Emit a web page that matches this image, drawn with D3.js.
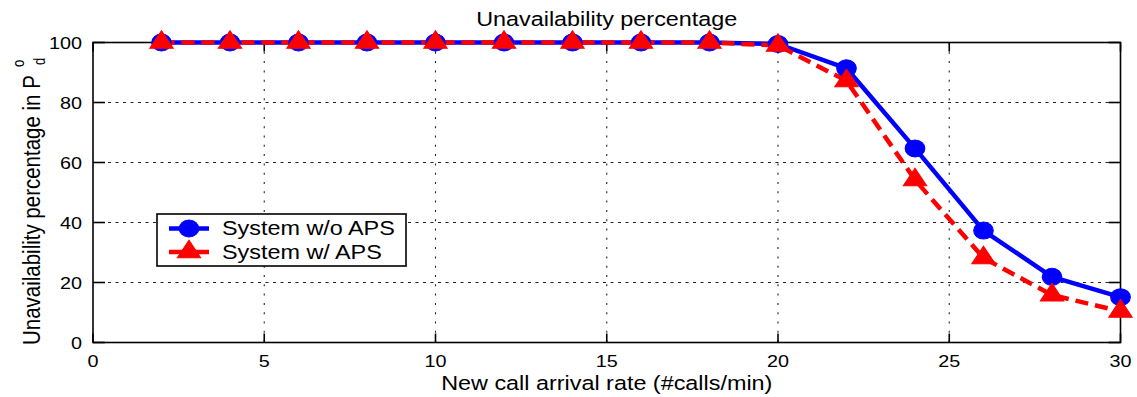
<!DOCTYPE html>
<html>
<head>
<meta charset="utf-8">
<script src="https://cdn.jsdelivr.net/npm/d3@7"></script>
<style>
  html, body { margin: 0; padding: 0; background: #fff; }
  svg { display: block; font-family: "Liberation Sans", Arial, sans-serif; }
</style>
</head>
<body>
<svg id="chart" width="1137" height="397"></svg>
<script>
// Call arrival rate (calls/min)
const arrivalRate = [2, 4, 6, 8, 10, 12, 14, 16, 18, 20, 22, 24, 26, 28, 30];
// Unavailability percentage, system without APS
const withoutAPS = [100, 100, 100, 100, 100, 100, 100, 100, 100, 99.5, 91.4, 64.7, 37.3, 21.9, 15.1];
// Unavailability percentage, system with APS
const withAPS = [100, 100, 100, 100, 100, 100, 100, 100, 100, 99, 87.2, 54.2, 28.2, 15.8, 10.4];

const xTicks = [0, 5, 10, 15, 20, 25, 30];
const yTicks = [0, 20, 40, 60, 80, 100];
const seriesNames = ["System w/o APS", "System w/ APS"];

const svg = d3.select("#chart");
const margin = { left: 93, right: 1137 - 1120.5, top: 42.5, bottom: 397 - 342.5 };
const W = 1137, H = 397;
const x = d3.scaleLinear().domain([0, 30]).range([margin.left, W - margin.right]);
const y = d3.scaleLinear().domain([0, 100]).range([H - margin.bottom, margin.top]);

const SX = 1.2; // horizontal glyph stretch of the text

// text helper: wide glyphs drawn through a horizontal scale
function label(g, tx, ty, str, size, anchor) {
  return g.append("text")
    .attr("transform", `translate(${tx},${ty}) scale(${SX},1)`)
    .attr("font-size", size)
    .attr("text-anchor", anchor || "middle")
    .attr("fill", "#000")
    .text(str);
}

// vertical text helper (reads bottom to top)
function vlabel(g, tx, ty, str, size, anchor) {
  return g.append("text")
    .attr("transform", `translate(${tx},${ty}) scale(${SX},1) rotate(-90)`)
    .attr("font-size", size)
    .attr("text-anchor", anchor || "start")
    .attr("fill", "#000")
    .text(str);
}

// grid
const grid = svg.append("g").attr("stroke", "#222").attr("stroke-width", 1.1);
grid.selectAll("line.v").data(xTicks.filter(d => d > 0 && d < 30)).join("line")
  .attr("x1", d => x(d)).attr("x2", d => x(d))
  .attr("y1", y(100)).attr("y2", y(0))
  .attr("stroke-dasharray", "2,7.3");
grid.selectAll("line.h").data(yTicks.filter(d => d > 0 && d < 100)).join("line")
  .attr("x1", x(0)).attr("x2", x(30))
  .attr("y1", d => y(d)).attr("y2", d => y(d))
  .attr("stroke-dasharray", "3,4.5");

// axes box with inward ticks on all sides
const axes = svg.append("g").attr("stroke", "#000").attr("stroke-width", 1.6).attr("fill", "none");
axes.append("rect").attr("x", x(0)).attr("y", y(100))
  .attr("width", x(30) - x(0)).attr("height", y(0) - y(100));
xTicks.forEach(t => {
  axes.append("line").attr("x1", x(t)).attr("x2", x(t)).attr("y1", y(0)).attr("y2", y(0) - 9);
  axes.append("line").attr("x1", x(t)).attr("x2", x(t)).attr("y1", y(100)).attr("y2", y(100) + 9);
});
yTicks.forEach(t => {
  axes.append("line").attr("x1", x(0)).attr("x2", x(0) + 12).attr("y1", y(t)).attr("y2", y(t));
  axes.append("line").attr("x1", x(30)).attr("x2", x(30) - 12).attr("y1", y(t)).attr("y2", y(t));
});

// tick labels
const tl = svg.append("g");
xTicks.forEach(t => label(tl, x(t), 367, String(t), 16.5, "middle"));
yTicks.forEach(t => label(tl, 82, y(t) + 6, String(t), 16.5, "end"));

// title and axis labels
label(svg, x(15), 26, "Unavailability percentage", 19.5, "middle");
label(svg, x(15), 390, "New call arrival rate (#calls/min)", 19.5, "middle");

const yl = svg.append("g");
vlabel(yl, 40, 345, "Unavailability percentage in P", 20.5, "start");
vlabel(yl, 24, 67, "o", 13, "start");
vlabel(yl, 45, 65, "d", 13, "start");

// series
const line = d3.line().x((d, i) => x(arrivalRate[i])).y(d => y(d));
const circleSym = d3.symbol().type(d3.symbolCircle).size(Math.PI * 8.5 * 8.5);
const triSym = d3.symbol().type(d3.symbolTriangle).size(179);

svg.append("path").datum(withoutAPS)
  .attr("d", line).attr("fill", "none")
  .attr("stroke", "#0000ff").attr("stroke-width", 4.5).attr("stroke-linejoin", "round");
svg.append("path").datum(withAPS)
  .attr("d", line).attr("fill", "none")
  .attr("stroke", "#ff0000").attr("stroke-width", 4.5).attr("stroke-dasharray", "13,7");

svg.append("g").selectAll("path").data(withoutAPS).join("path")
  .attr("d", circleSym)
  .attr("transform", (d, i) => `translate(${x(arrivalRate[i])},${y(d)}) scale(1.15,1)`)
  .attr("fill", "#0000ff").attr("stroke", "#0000ff").attr("stroke-width", 1);
svg.append("g").selectAll("path").data(withAPS).join("path")
  .attr("d", triSym)
  .attr("transform", (d, i) => `translate(${x(arrivalRate[i])},${y(d)}) scale(1.15,1)`)
  .attr("fill", "#ff0000").attr("stroke", "#ff0000").attr("stroke-width", 1);

// legend
const lg = svg.append("g");
lg.append("rect").attr("x", 157).attr("y", 214).attr("width", 249).attr("height", 52)
  .attr("fill", "#fff").attr("stroke", "#000").attr("stroke-width", 1.6);
const legendRows = [
  { name: seriesNames[0], color: "#0000ff", sym: circleSym, yy: 228.5 },
  { name: seriesNames[1], color: "#ff0000", sym: triSym, yy: 252 }
];
legendRows.forEach(r => {
  lg.append("line").attr("x1", 169).attr("x2", 209).attr("y1", r.yy).attr("y2", r.yy)
    .attr("stroke", r.color).attr("stroke-width", 4.5);
  lg.append("path").attr("d", r.sym)
    .attr("transform", `translate(189,${r.yy}) scale(1.15,1)`)
    .attr("fill", r.color).attr("stroke", r.color);
  label(lg, 222, r.yy + 6.5, r.name, 19.5, "start");
});
</script>
</body>
</html>
